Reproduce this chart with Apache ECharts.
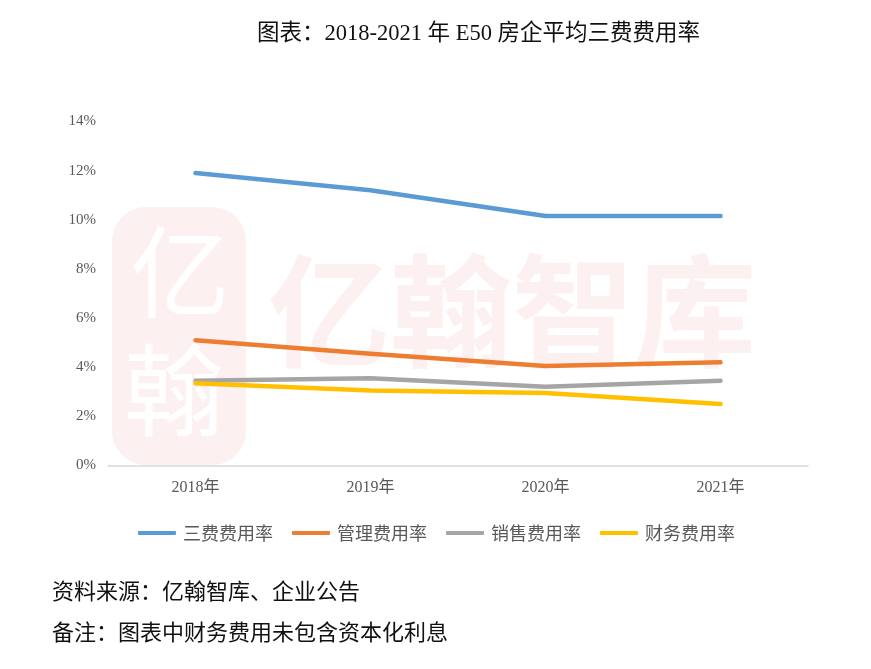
<!DOCTYPE html>
<html>
<head>
<meta charset="utf-8">
<script src="https://cdn.jsdelivr.net/npm/echarts@6/dist/echarts.min.js"></script>
<style>
  html, body { margin: 0; padding: 0; background: #fff; }
  #chart { width: 871px; height: 669px; }
</style>
</head>
<body>
<div id="chart"></div>
<script>
const categories = ['2018年', '2019年', '2020年', '2021年'];
const seriesNames = ['三费费用率', '管理费用率', '销售费用率', '财务费用率'];
const sanfei = [11.9, 11.2, 10.15, 10.15];
const guanli = [5.1, 4.55, 4.05, 4.2];
const xiaoshou = [3.45, 3.55, 3.2, 3.45];
const caiwu = [3.35, 3.05, 2.95, 2.5];
const colors = ['#5b9bd5', '#ed7d31', '#a5a5a5', '#ffc000'];

const serifFont = '"Liberation Serif", "Noto Sans CJK SC", serif';
const cjkFont = '"Noto Sans CJK SC", sans-serif';

const chart = echarts.init(document.getElementById('chart'));

const values = [sanfei, guanli, xiaoshou, caiwu];

const option = {
  backgroundColor: '#fff',
  animation: false,
  color: colors,
  title: {
    text: '图表：2018-2021 年 E50 房企平均三费费用率',
    left: 252,
    top: 18,
    textStyle: { fontFamily: serifFont, fontSize: 22.5, fontWeight: 'normal', color: '#111' }
  },
  grid: { left: 108, right: 63, top: 121.5, bottom: 203.5 },
  legend: {
    bottom: 122,
    left: 133,
    icon: 'roundRect',
    itemWidth: 38,
    itemHeight: 4,
    itemGap: 19,
    data: seriesNames,
    textStyle: { fontFamily: cjkFont, fontSize: 18, color: '#595959', padding: [0, 0, 0, 2] }
  },
  xAxis: {
    type: 'category',
    data: categories,
    axisLine: { lineStyle: { color: '#d9d9d9', width: 1.5 } },
    axisTick: { show: false },
    axisLabel: { fontFamily: serifFont, fontSize: 16, color: '#595959', margin: 14 }
  },
  yAxis: {
    type: 'value',
    min: 0,
    max: 14,
    interval: 2,
    splitLine: { show: false },
    axisLine: { show: false },
    axisLabel: {
      fontFamily: serifFont,
      fontSize: 15,
      color: '#595959',
      margin: 12,
      formatter: '{value}%'
    }
  },
  graphic: [
    // watermark seal
    {
      type: 'rect', z: 0, silent: true,
      shape: { x: 112, y: 207, width: 134, height: 258, r: 34 },
      style: { fill: 'rgba(236,120,120,0.11)' }
    },
    {
      type: 'text', z: 0, silent: true, left: 130, top: 222,
      style: { text: '亿', font: '100px "Noto Sans CJK SC"', fill: 'rgba(255,255,255,0.95)' }
    },
    {
      type: 'text', z: 0, silent: true, left: 124, top: 340,
      style: { text: '翰', font: '100px "Noto Sans CJK SC"', fill: 'rgba(255,255,255,0.95)' }
    },
    // watermark text
    {
      type: 'text', z: 0, silent: true, left: 268, top: 250,
      style: { text: '亿翰智库', font: 'bold 122px "Noto Sans CJK SC"', fill: 'rgba(236,110,110,0.1)' }
    },
    // footer notes
    {
      type: 'text', left: 52, top: 580,
      style: { text: '资料来源：亿翰智库、企业公告', font: '22px ' + cjkFont, fill: '#111' }
    },
    {
      type: 'text', left: 52, top: 621,
      style: { text: '备注：图表中财务费用未包含资本化利息', font: '22px ' + cjkFont, fill: '#111' }
    }
  ],
  series: seriesNames.map((name, i) => ({
    name: name,
    type: 'line',
    data: values[i],
    showSymbol: false,
    symbol: 'none',
    z: 3,
    lineStyle: { width: 4.5, color: colors[i], cap: 'round', join: 'round' }
  }))
};

chart.setOption(option);
</script>
</body>
</html>
